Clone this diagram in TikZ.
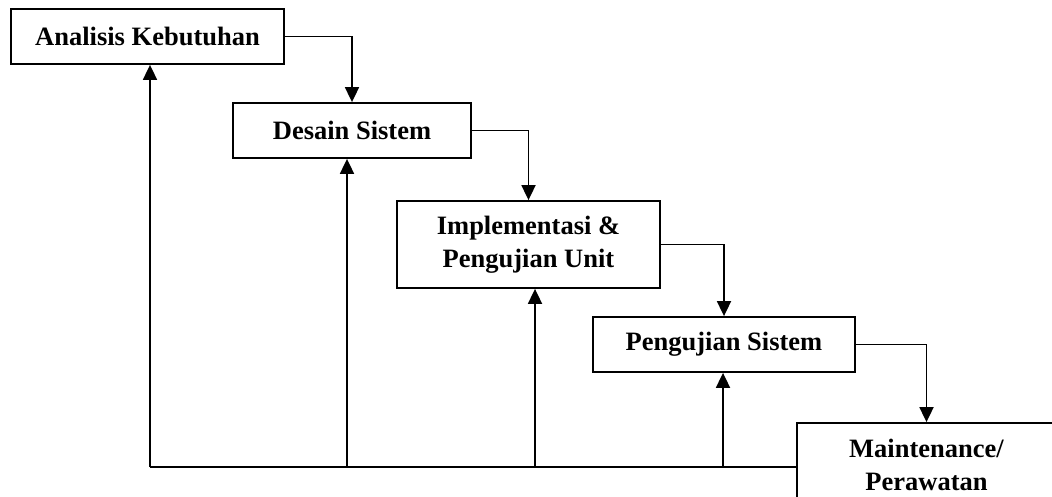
\documentclass[tikz,border=0pt]{standalone}
\usepackage{fontspec}
\setmainfont{Liberation Serif}
\usetikzlibrary{arrows.meta}
\begin{document}
\begin{tikzpicture}[x=1pt,y=-1pt,
  box/.style={draw,line width=1.8pt,align=center,inner sep=0pt,
    font=\fontsize{26.5}{33}\selectfont\bfseries},
  arr/.style={line width=1.8pt,-{Triangle[length=15pt,width=14pt]}},
  conn/.style={line width=1.8pt}]
\useasboundingbox (0,0) rectangle (1052,497);
\clip (0,0) rectangle (1052,497);
\node[box,minimum width=273pt,minimum height=55pt] (b1) at (147.5,36.5) {Analisis Kebutuhan};
\node[box,minimum width=238pt,minimum height=55pt] (b2) at (352,130.5) {Desain Sistem};
\node[box,minimum width=263pt,minimum height=87pt] (b3) at (528.5,244.5) {Implementasi \&\\Pengujian Unit};
\node[box,minimum width=262pt,minimum height=55pt] (b4) at (724,344.5) {Pengujian Sistem};
\node[box,minimum width=259pt,minimum height=84pt] (b5) at (926.5,465) {Maintenance/\\Perawatan};
\draw[arr] (b1.east) -| (b2.north);
\draw[arr] (b2.east) -| (b3.north);
\draw[arr] (b3.east) -| (b4.north);
\draw[arr] (b4.east) -| (b5.north);
\coordinate (f1) at (150,467);
\coordinate (f2) at (347,467);
\coordinate (f3) at (535,467);
\coordinate (f4) at (723,467);
\draw[conn] (f1) -- (b5.west |- f1);
\draw[arr] (f1) -- (f1 |- b1.south);
\draw[arr] (f2) -- (f2 |- b2.south);
\draw[arr] (f3) -- (f3 |- b3.south);
\draw[arr] (f4) -- (f4 |- b4.south);
\end{tikzpicture}
\end{document}
